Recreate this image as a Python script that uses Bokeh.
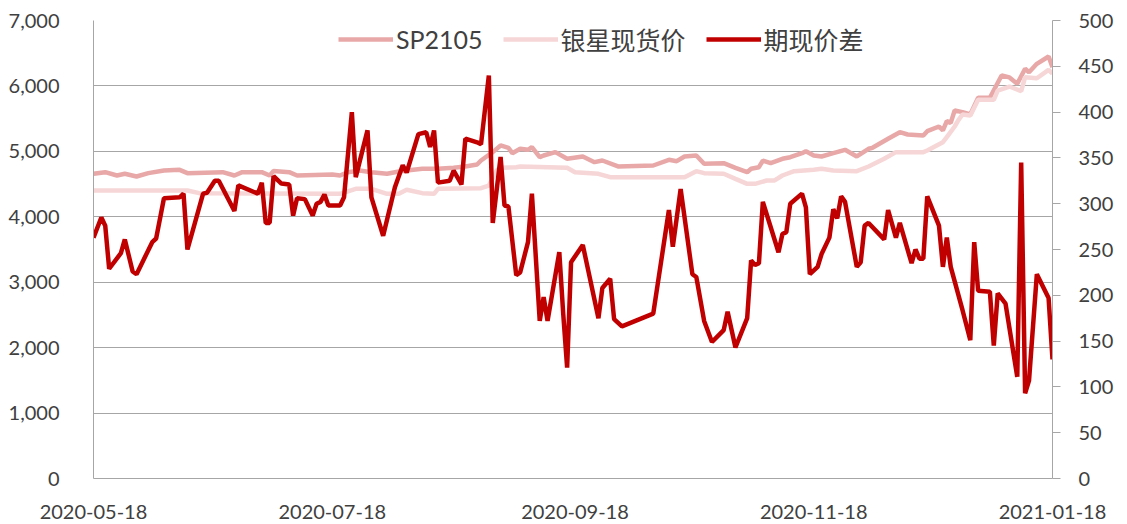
import pandas as pd
from bokeh.plotting import figure
from bokeh.models import (Range1d, LinearAxis, FixedTicker, NumeralTickFormatter,
                          DatetimeTickFormatter, Legend, LegendItem)
from bokeh.embed import file_html
from bokeh.resources import INLINE

# ---------------- data ----------------
start_date = "2020-05-18"
x_tick_labels = ["2020-05-18", "2020-07-18", "2020-09-18", "2020-11-18", "2021-01-18"]
left_ticks = [0, 1000, 2000, 3000, 4000, 5000, 6000, 7000]
right_ticks = [0, 50, 100, 150, 200, 250, 300, 350, 400, 450, 500]
series_names = ["SP2105", "银星现货价", "期现价差"]

sp_day = [0, 3, 6, 8, 11, 14, 18, 22, 24, 33, 36, 38, 43, 45, 46, 50, 52, 61, 63, 65,
          68, 71, 75, 78, 80, 84, 88, 92, 95, 98, 99, 102, 104, 106, 107, 109, 111, 112,
          114, 115, 118, 121, 125, 128, 130, 134, 143, 147, 149, 151, 154, 156, 161, 164,
          167, 168, 170, 171, 173, 176, 178, 181, 182, 184, 186, 189, 192, 195, 198, 199,
          203, 206, 208, 212, 213, 216, 217, 218, 219, 220, 222, 224, 226, 229, 232, 234,
          236, 238, 239, 241, 244, 245]
sp_value = [4657, 4682, 4631, 4657, 4616, 4667, 4708, 4718, 4667, 4682, 4631, 4682, 4682,
            4631, 4698, 4682, 4631, 4646, 4631, 4682, 4708, 4682, 4657, 4692, 4708, 4733,
            4733, 4748, 4769, 4799, 4860, 4988, 5090, 5054, 4972, 5039, 5024, 5064, 4911,
            4937, 4988, 4886, 4922, 4835, 4860, 4769, 4784, 4871, 4850, 4922, 4937, 4810,
            4820, 4748, 4682, 4733, 4758, 4860, 4820, 4886, 4911, 4972, 5003, 4937, 4922,
            4972, 5024, 4922, 5039, 5054, 5192, 5293, 5258, 5242, 5308, 5380, 5319, 5461,
            5436, 5624, 5600, 5563, 5819, 5819, 6159, 6130, 6033, 6262, 6210, 6338, 6450,
            6286]

spot_day = [0, 24, 27, 61, 63, 67, 71, 75, 78, 80, 84, 87, 88, 99, 101, 103, 104, 108, 109,
            121, 123, 129, 132, 151, 154, 156, 161, 164, 167, 169, 172, 174, 176, 179, 184,
            186, 189, 195, 198, 202, 205, 212, 213, 217, 218, 220, 221, 222, 224, 226, 230,
            231, 234, 237, 238, 241, 244, 245]
spot_value = [4402, 4402, 4361, 4351, 4351, 4428, 4428, 4351, 4351, 4413, 4361, 4351, 4428,
              4437, 4478, 4708, 4748, 4758, 4769, 4748, 4682, 4657, 4605, 4605, 4697, 4667,
              4657, 4580, 4504, 4504, 4555, 4555, 4631, 4697, 4718, 4733, 4708, 4697, 4769,
              4886, 4988, 4988, 5013, 5140, 5217, 5380, 5482, 5563, 5548, 5788, 5788, 5930,
              5991, 5920, 6133, 6118, 6246, 6186]

spread_day = [0, 2, 3, 4, 7, 8, 10, 11, 15, 16, 18, 22, 23, 24, 28, 29, 31, 32, 36, 37, 42,
              43, 44, 45, 46, 48, 50, 51, 52, 54, 56, 57, 58, 59, 60, 63, 64, 66, 67, 70, 71,
              74, 77, 79, 80, 83, 85, 86, 87, 88, 91, 92, 94, 95, 98, 99, 101, 102, 104, 105,
              106, 108, 109, 111, 112, 114, 115, 116, 119, 120, 121, 122, 125, 129, 130, 132,
              133, 135, 143, 147, 148, 150, 153, 154, 156, 158, 161, 162, 164, 167, 168, 169,
              170, 171, 175, 176, 177, 178, 181, 182, 183, 185, 186, 188, 189, 190, 191, 192,
              195, 196, 197, 198, 202, 203, 205, 206, 209, 210, 211, 212, 213, 216, 217, 218,
              219, 222, 224, 225, 226, 229, 230, 231, 233, 236, 237, 238, 239, 241, 244, 245]
spread_value = [263, 285, 276, 229, 246, 261, 226, 223, 258, 262, 306, 307, 311, 250, 311,
                312, 325, 325, 292, 320, 311, 323, 279, 279, 330, 322, 321, 287, 306, 305,
                287, 300, 302, 310, 298, 298, 307, 400, 329, 380, 307, 265, 318, 342, 334,
                376, 378, 362, 380, 323, 325, 336, 321, 371, 367, 365, 440, 279, 351, 298,
                297, 222, 225, 258, 311, 172, 198, 172, 247, 180, 121, 236, 255, 175, 208,
                218, 174, 166, 180, 293, 253, 316, 223, 220, 172, 149, 162, 182, 143, 175,
                238, 233, 235, 302, 247, 267, 269, 300, 311, 296, 223, 231, 245, 263, 294,
                284, 308, 302, 231, 236, 276, 279, 261, 293, 263, 279, 235, 250, 240, 240,
                308, 276, 231, 263, 231, 184, 151, 258, 205, 204, 145, 202, 191, 111, 345,
                93, 107, 223, 197, 130]

# ---------------- helpers ----------------
t0 = pd.Timestamp(start_date)
def to_dates(days):
    return [t0 + pd.Timedelta(days=d) for d in days]

def ms(s):
    return pd.Timestamp(s).value / 1e6

FONT = "Lato"
LEGEND_FONT = "Lato, 'Noto Sans CJK SC'"
LABEL_COLOR = "#404040"
GRID_COLOR = "#A6A6A6"

p = figure(width=1118, height=522, x_axis_type="datetime",
           output_backend="svg", toolbar_location=None,
           x_range=Range1d(ms(x_tick_labels[0]), ms(x_tick_labels[-1])),
           y_range=Range1d(left_ticks[0], left_ticks[-1]),
           min_border_left=93, min_border_right=66, min_border_top=20, min_border_bottom=44)
p.extra_y_ranges = {"right": Range1d(right_ticks[0], right_ticks[-1])}
p.outline_line_color = None
p.background_fill_color = "white"
p.border_fill_color = "white"

r_sp = p.line(to_dates(sp_day), sp_value, line_color="#E8A8A8", line_width=4.5)
r_spot = p.line(to_dates(spot_day), spot_value, line_color="#F6D6D6", line_width=4.5)
r_spread = p.line(to_dates(spread_day), spread_value, line_color="#C00000", line_width=4.5,
                  y_range_name="right")

# x axis
xa = p.xaxis[0]
xa.ticker = FixedTicker(ticks=[ms(s) for s in x_tick_labels])
fmt = "%Y-%m-%d"
xa.formatter = DatetimeTickFormatter(milliseconds=fmt, seconds=fmt, minsec=fmt, minutes=fmt,
                                     hourmin=fmt, hours=fmt, days=fmt, months=fmt, years=fmt)
xa.major_tick_line_color = None
xa.minor_tick_line_color = None
xa.axis_line_color = GRID_COLOR
xa.major_label_text_font = FONT
xa.major_label_text_font_size = "20px"
xa.major_label_text_color = LABEL_COLOR
xa.major_label_standoff = 20

# left axis
ya = p.yaxis[0]
ya.ticker = FixedTicker(ticks=left_ticks)
ya.formatter = NumeralTickFormatter(format="0,0")
ya.major_tick_line_color = None
ya.minor_tick_line_color = None
ya.axis_line_color = GRID_COLOR
ya.major_label_text_font = FONT
ya.major_label_text_font_size = "20px"
ya.major_label_text_color = LABEL_COLOR
ya.major_label_standoff = 28

# right axis
ra = LinearAxis(y_range_name="right", ticker=FixedTicker(ticks=right_ticks))
ra.major_tick_out = 8
ra.major_tick_in = 0
ra.major_tick_line_color = GRID_COLOR
ra.minor_tick_line_color = None
ra.axis_line_color = GRID_COLOR
ra.major_label_text_font = FONT
ra.major_label_text_font_size = "20px"
ra.major_label_text_color = LABEL_COLOR
ra.major_label_standoff = 18
p.add_layout(ra, "right")

# grid
p.xgrid.grid_line_color = None
p.ygrid.ticker = FixedTicker(ticks=left_ticks)
p.ygrid.grid_line_color = GRID_COLOR
p.ygrid.grid_line_width = 1

legend = Legend(items=[LegendItem(label=series_names[0], renderers=[r_sp]),
                       LegendItem(label=series_names[1], renderers=[r_spot]),
                       LegendItem(label=series_names[2], renderers=[r_spread])],
                orientation="horizontal", location=(245, 421))
legend.padding = 0
legend.margin = 0
legend.spacing = 20
legend.glyph_width = 55
legend.glyph_height = 24
legend.label_standoff = 3
legend.label_text_font = LEGEND_FONT
legend.label_text_font_size = "25px"
legend.label_text_color = LABEL_COLOR
legend.background_fill_alpha = 0
legend.border_line_color = None
p.add_layout(legend, "center")

open("out.html", "w").write(file_html(p, INLINE))
